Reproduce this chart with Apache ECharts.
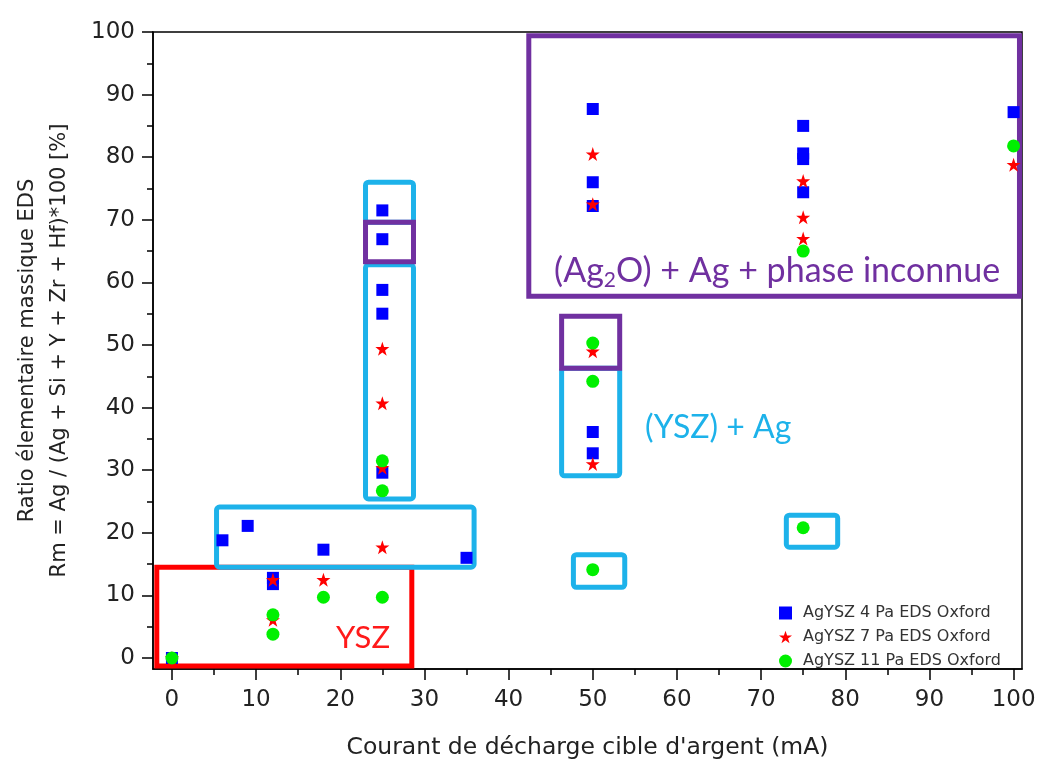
<!DOCTYPE html>
<html>
<head>
<meta charset="utf-8">
<script src="https://cdn.jsdelivr.net/npm/echarts@6/dist/echarts.min.js"></script>
<style>
html,body{margin:0;padding:0;background:#fff;}
#chart{width:1039px;height:767px;}
</style>
</head>
<body>
<div id="chart"></div>
<script>
// ---- data ----
const seriesNames = ['AgYSZ 4 Pa EDS Oxford', 'AgYSZ 7 Pa EDS Oxford', 'AgYSZ 11 Pa EDS Oxford'];
const pa4 = [[0,0],[6,18.8],[9,21.1],[12,12.8],[12,11.8],[18,17.3],[25,71.5],[25,66.9],[25,58.8],[25,55.0],[25,29.6],[35,16.0],
  [50,36.1],[50,32.7],[50,87.7],[50,76.0],[50,72.2],[75,85.0],[75,80.6],[75,79.7],[75,74.4],[100,87.2]];
const pa7 = [[0,0],[12,12.5],[12,6.1],[18,12.5],[25,17.7],[25,49.4],[25,40.7],[25,30.4],[50,49.0],[50,31.0],[50,80.5],[50,72.5],
  [75,76.2],[75,70.4],[75,67.0],[100,78.8]];
const pa11 = [[0,0],[12,6.9],[12,3.8],[18,9.7],[25,9.7],[25,31.5],[25,26.7],[50,50.3],[50,44.2],[50,14.1],[75,20.8],[75,65.0],[100,81.8]];
const xMajor = [0,10,20,30,40,50,60,70,80,90,100];
const xMinor = [5,15,25,35,45,55,65,75,85,95];
const yMajor = [0,10,20,30,40,50,60,70,80,90,100];
const yMinor = [5,15,25,35,45,55,65,75,85,95];
const xTitle = "Courant de décharge cible d'argent (mA)";
const yTitle = "Ratio élementaire massique EDS\nRm = Ag / (Ag + Si + Y + Zr + Hf)*100 [%]";
// annotation boxes: [x1, y1, x2, y2, colour, radius]
const boxes = [
  [-1.8, 14.5, 28.5, -1.3, '#ff0000', 0],
  [5.3, 24.1, 35.9, 14.5, '#1db2ea', 3],
  [23.0, 76.0, 28.7, 69.6, '#1db2ea', 3],
  [23.0, 62.8, 28.7, 25.4, '#1db2ea', 3],
  [23.0, 69.6, 28.7, 63.3, '#7030a0', 0],
  [46.3, 46.3, 53.2, 29.1, '#1db2ea', 3],
  [46.3, 54.6, 53.2, 46.3, '#7030a0', 0],
  [47.7, 16.5, 53.8, 11.3, '#1db2ea', 3],
  [73.0, 22.8, 79.1, 17.7, '#1db2ea', 3],
  [42.4, 99.4, 100.7, 57.8, '#7030a0', 0]
];
// annotation texts: [x, y, text, colour, size]
const notes = [
  [22.7, 3.2, 'YSZ', '#ff1a1a', 31],
  [64.9, 36.8, '(YSZ) + Ag', '#1db2ea', 32],
  [71.9, 61.8, '{n|(Ag}{s|2}{n|O) + Ag + phase inconnue}', '#7030a0', 34]
];

const X_MIN = -2.25, X_MAX = 101, Y_MIN = -1.76, Y_MAX = 100;
const star = 'path://M50,0 L61.8,35.1 L98.1,35.1 L68.7,56.8 L79.9,91.9 L50,70.2 L20.1,91.9 L31.3,56.8 L1.9,35.1 L38.2,35.1 Z';
const axisFont = 'DejaVu Sans';

const chart = echarts.init(document.getElementById('chart'), null, {renderer: 'canvas'});
const lineStyle = {color: '#000', width: 1.5};
const option = {
  animation: false,
  backgroundColor: '#fff',
  grid: {left: 153, right: 17, top: 32, bottom: 98, show: true, borderColor: '#000', borderWidth: 1.5},
  legend: {
    orient: 'vertical', left: 774, top: 600, itemWidth: 13, itemHeight: 13, itemGap: 8,
    textStyle: {fontFamily: axisFont, fontSize: 16, color: '#333', padding: [0, 0, 0, 6]},
    data: seriesNames
  },
  xAxis: [{
    type: 'value', min: X_MIN, max: X_MAX, position: 'bottom',
    name: xTitle, nameLocation: 'middle', nameGap: 67,
    nameTextStyle: {fontFamily: axisFont, fontSize: 23.5, color: '#222'},
    axisLine: {show: true, onZero: false, lineStyle: lineStyle},
    axisTick: {show: true, length: 11, lineStyle: lineStyle, customValues: xMajor},
    axisLabel: {show: true, margin: 20, fontFamily: axisFont, fontSize: 23, color: '#222', customValues: xMajor},
    splitLine: {show: false}
  }, {
    type: 'value', min: X_MIN, max: X_MAX, position: 'bottom',
    axisLine: {show: false, onZero: false},
    axisTick: {show: true, length: 6, lineStyle: lineStyle, customValues: xMinor},
    axisLabel: {show: false},
    splitLine: {show: false}
  }],
  yAxis: [{
    type: 'value', min: Y_MIN, max: Y_MAX, position: 'left',
    name: yTitle, nameLocation: 'middle', nameGap: 77, nameRotate: 90,
    nameTextStyle: {fontFamily: axisFont, fontSize: 21, color: '#222', lineHeight: 32},
    axisLine: {show: true, onZero: false, lineStyle: lineStyle},
    axisTick: {show: true, length: 11, lineStyle: lineStyle, customValues: yMajor},
    axisLabel: {show: true, margin: 18, fontFamily: axisFont, fontSize: 23, color: '#222', customValues: yMajor},
    splitLine: {show: false}
  }, {
    type: 'value', min: Y_MIN, max: Y_MAX, position: 'left',
    axisLine: {show: false, onZero: false},
    axisTick: {show: true, length: 6, lineStyle: lineStyle, customValues: yMinor},
    axisLabel: {show: false},
    splitLine: {show: false}
  }],
  series: [
    {name: seriesNames[0], type: 'scatter', data: pa4, symbol: 'rect', symbolSize: 12, itemStyle: {color: '#0000ff', opacity: 1}, z: 3},
    {name: seriesNames[1], type: 'scatter', data: pa7, symbol: star, symbolSize: 14, itemStyle: {color: '#ff0000', opacity: 1}, z: 4},
    {name: seriesNames[2], type: 'scatter', data: pa11, symbol: 'circle', symbolSize: 13, itemStyle: {color: '#00f000', opacity: 1}, z: 5}
  ]
};
chart.setOption(option);

function px(x, y) { return chart.convertToPixel({xAxisIndex: 0, yAxisIndex: 0}, [x, y]); }
const graphics = [];
boxes.forEach(b => {
  const p1 = px(b[0], b[1]), p2 = px(b[2], b[3]);
  graphics.push({
    type: 'rect', z: 1, silent: true,
    shape: {x: Math.min(p1[0], p2[0]), y: Math.min(p1[1], p2[1]), width: Math.abs(p2[0]-p1[0]), height: Math.abs(p2[1]-p1[1]), r: b[5]},
    style: {fill: 'none', stroke: b[4], lineWidth: 5}
  });
});
notes.forEach(n => {
  const p = px(n[0], n[1]);
  graphics.push({
    type: 'text', z: 6, silent: true, x: p[0], y: p[1],
    style: {
      text: n[2], fill: n[3], font: n[4] + 'px Lato', align: 'center', verticalAlign: 'middle',
      rich: {
        n: {fontFamily: 'Lato', fontSize: n[4], fill: n[3], lineHeight: n[4] + 6},
        s: {fontFamily: 'Lato', fontSize: Math.round(n[4] * 0.62), fill: n[3], verticalAlign: 'bottom', lineHeight: n[4] + 6}
      }
    }
  });
});
chart.setOption({graphic: graphics});
</script>
</body>
</html>
